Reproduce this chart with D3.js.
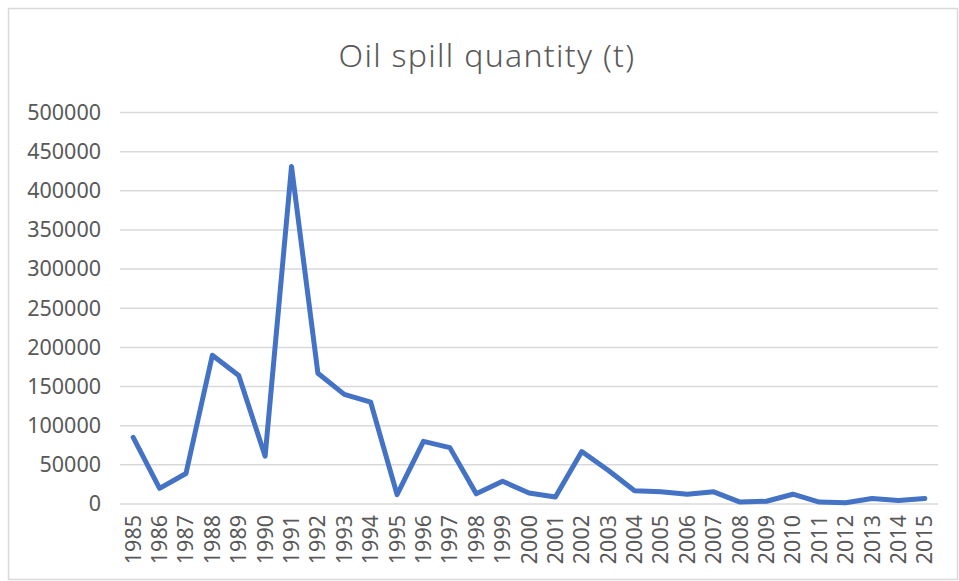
<!DOCTYPE html>
<html>
<head>
<meta charset="utf-8">
<script src="https://cdn.jsdelivr.net/npm/d3@7"></script>
<style>
  body { margin: 0; background: #ffffff; }
  text { font-family: "Noto Sans", "Liberation Sans", sans-serif; fill: #595959; }
</style>
</head>
<body>
<script>
const width = 959;
const height = 581;

// data
const years = ['1985','1986','1987','1988','1989','1990','1991','1992','1993','1994',
  '1995','1996','1997','1998','1999','2000','2001','2002','2003','2004','2005',
  '2006','2007','2008','2009','2010','2011','2012','2013','2014','2015'];
const spill = [85000, 20000, 39000, 190000, 164000, 61000, 431000, 167000, 140000, 130000,
  12000, 80000, 72000, 13000, 29000, 14000, 9000, 67000, 43000, 17000, 15500,
  12500, 15500, 2500, 3500, 12500, 2500, 1500, 7000, 4500, 7000];
const yTicks = [0, 50000, 100000, 150000, 200000, 250000, 300000, 350000, 400000, 450000, 500000];

const plotLeft = 120, plotRight = 938, plotTop = 112.5, plotBottom = 504;

const svg = d3.select('body')
  .append('svg')
  .attr('width', width)
  .attr('height', height);

// chart frame
svg.append('rect')
  .attr('x', 8.5).attr('y', 8.5)
  .attr('width', width - 10).attr('height', 571)
  .attr('fill', '#fff')
  .attr('stroke', '#d9d9d9')
  .attr('stroke-width', 1.5);

const x = d3.scaleBand()
  .domain(years)
  .range([plotLeft, plotRight]);

const y = d3.scaleLinear()
  .domain([0, 500000])
  .range([plotBottom, plotTop]);

// gridlines
svg.append('g')
  .selectAll('line')
  .data(yTicks)
  .enter()
  .append('line')
  .attr('x1', plotLeft)
  .attr('x2', plotRight)
  .attr('y1', d => y(d))
  .attr('y2', d => y(d))
  .attr('stroke', '#d9d9d9')
  .attr('stroke-width', 1.5);

// y labels
const yAxis = svg.append('g')
  .attr('transform', `translate(${plotLeft - 19},0)`)
  .call(d3.axisLeft(y).tickValues(yTicks).tickSize(0).tickPadding(0).tickFormat(d3.format('d')));
yAxis.select('.domain').remove();
yAxis.selectAll('text')
  .style('font-size', '21.5px')
  .attr('fill', '#595959');

// x labels, rotated
const xAxis = svg.append('g')
  .attr('transform', `translate(0,${plotBottom})`)
  .call(d3.axisBottom(x).tickSize(0).tickPadding(0));
xAxis.select('.domain').remove();
xAxis.selectAll('text')
  .style('font-size', '21.5px')
  .attr('fill', '#595959')
  .attr('transform', 'rotate(-90)')
  .attr('text-anchor', 'end')
  .attr('x', -11)
  .attr('y', 0)
  .attr('dy', '0.35em');

// the line
const line = d3.line()
  .x((d, i) => x(years[i]) + x.bandwidth() / 2)
  .y(d => y(d));

svg.append('path')
  .datum(spill)
  .attr('d', line)
  .attr('fill', 'none')
  .attr('stroke', '#4472c4')
  .attr('stroke-width', 5)
  .attr('stroke-linejoin', 'round')
  .attr('stroke-linecap', 'round');

// title
svg.append('text')
  .text('Oil spill quantity (t)')
  .attr('x', 487)
  .attr('y', 67)
  .attr('text-anchor', 'middle')
  .style('font-size', '32px')
  .style('letter-spacing', '1.3px')
  .style('font-weight', 300);
</script>
</body>
</html>
